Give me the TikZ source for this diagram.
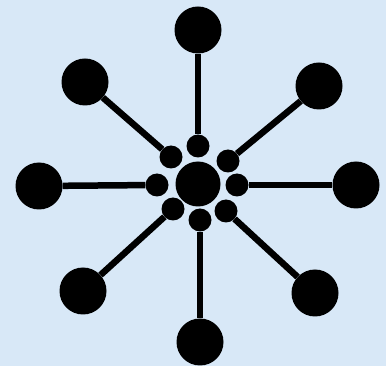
\documentclass[tikz,border=0pt]{standalone}
\usepackage{xcolor}
\usepackage{tikz}
\definecolor{skyback}{RGB}{216,232,247}

\begin{document}
\begin{tikzpicture}[
    x=1pt, y=-1pt,
    hub/.style={circle, fill=black, inner sep=0pt, minimum size=45pt},
    joint/.style={circle, fill=black, inner sep=0pt, minimum size=23pt},
    leaf/.style={circle, fill=black, inner sep=0pt, minimum size=47pt},
    spoke/.style={line width=6.5pt, black}
  ]
    \fill[skyback] (0,0) rectangle (386,366);
    \useasboundingbox (0,0) rectangle (386,366);

    \node[hub] (hub) at (198,184) {};

    \node[joint] (jn)  at (198,146) {};
    \node[joint] (jne) at (228,161) {};
    \node[joint] (je)  at (237,185) {};
    \node[joint] (jse) at (226,211) {};
    \node[joint] (js)  at (200,220) {};
    \node[joint] (jsw) at (173,209) {};
    \node[joint] (jw)  at (157,185) {};
    \node[joint] (jnw) at (171,157) {};

    \node[leaf] (ln)  at (198,30)  {};
    \node[leaf] (lne) at (319,86)  {};
    \node[leaf] (le)  at (356,185) {};
    \node[leaf] (lse) at (315,293) {};
    \node[leaf] (ls)  at (200,342) {};
    \node[leaf] (lsw) at (83,291)  {};
    \node[leaf] (lw)  at (39,186)  {};
    \node[leaf] (lnw) at (85,82)   {};

    \draw[spoke] (jn)  -- (ln);
    \draw[spoke] (jne) -- (lne);
    \draw[spoke] (je)  -- (le);
    \draw[spoke] (jse) -- (lse);
    \draw[spoke] (js)  -- (ls);
    \draw[spoke] (jsw) -- (lsw);
    \draw[spoke] (jw)  -- (lw);
    \draw[spoke] (jnw) -- (lnw);
  \end{tikzpicture}
\end{document}
